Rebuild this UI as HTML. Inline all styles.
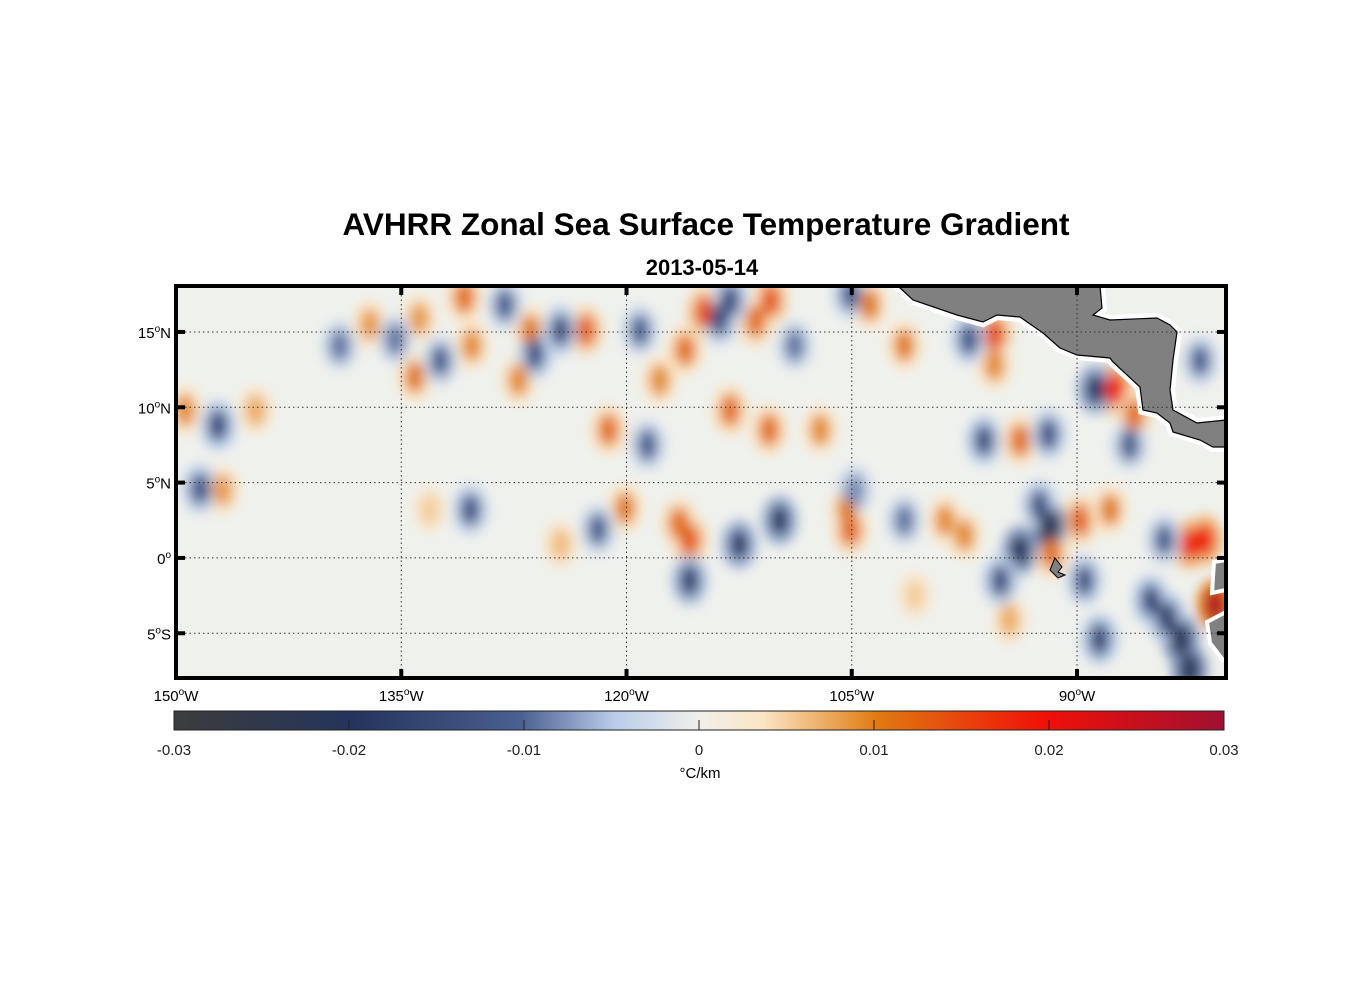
<!DOCTYPE html>
<html><head><meta charset="utf-8"><style>
body{margin:0;background:#fff;width:1356px;height:1000px;overflow:hidden;font-family:"Liberation Sans",Arial,sans-serif}
svg text{font-family:"Liberation Sans",Arial,sans-serif}
</style></head><body>
<svg id="chart" width="1356" height="1000" xmlns="http://www.w3.org/2000/svg">
<defs>
<filter id="blur" x="-50%" y="-50%" width="200%" height="200%"><feGaussianBlur stdDeviation="6"/></filter>
<clipPath id="mapclip"><rect x="176" y="286" width="1050" height="392"/></clipPath>
<linearGradient id="cbgrad" x1="0" x2="1" y1="0" y2="0">
<stop offset="0" stop-color="#3c3c3c"/><stop offset="0.17" stop-color="#24345c"/>
<stop offset="0.33" stop-color="#4a6090"/><stop offset="0.42" stop-color="#b9cdea"/>
<stop offset="0.5" stop-color="#f0f0ea"/><stop offset="0.56" stop-color="#fbe6c6"/>
<stop offset="0.67" stop-color="#e07a10"/><stop offset="0.83" stop-color="#f01008"/>
<stop offset="1" stop-color="#a01030"/></linearGradient>
</defs>
<text x="706" y="235" text-anchor="middle" font-size="31.5" font-weight="bold">AVHRR Zonal Sea Surface Temperature Gradient</text>
<text x="702" y="275" text-anchor="middle" font-size="22" font-weight="bold">2013-05-14</text>
<g clip-path="url(#mapclip)">
<rect x="176" y="286" width="1050" height="392" fill="#eff1ed"/>
<g id="blobs" filter="url(#blur)"></g>
<g id="land">
<polygon points="898,286 913,300 957,315 983,322 997,315 1020,317 1043,333 1060,348 1077,355 1110,358 1113,362 1140,387 1143,410 1157,413 1170,423 1173,432 1200,440 1213,447 1226,447 1226,420 1197,423 1173,410 1170,390 1173,360 1177,332 1170,325 1157,318 1110,320 1093,315 1102,308 1100,286" fill="#fff" stroke="#fff" stroke-width="10"/>
<polygon points="898,286 913,300 957,315 983,322 997,315 1020,317 1043,333 1060,348 1077,355 1110,358 1113,362 1140,387 1143,410 1157,413 1170,423 1173,432 1200,440 1213,447 1226,447 1226,420 1197,423 1173,410 1170,390 1173,360 1177,332 1170,325 1157,318 1110,320 1093,315 1102,308 1100,286" fill="#808080" stroke="#000" stroke-width="1.2"/>
<polygon points="1226,560 1214,562 1212,593 1226,590" fill="#808080" stroke="#fff" stroke-width="4"/>
<polygon points="1226,612 1207,622 1210,643 1223,660 1226,660" fill="#808080" stroke="#fff" stroke-width="4"/>
<polygon points="1055,558 1062,567 1058,572 1065,575 1058,578 1050,570" fill="#808080" stroke="#000" stroke-width="1"/>
</g>
<g id="grid" stroke="#333" stroke-width="1" stroke-dasharray="1.5,3"></g>
</g>
<rect x="176" y="286" width="1050" height="392" fill="none" stroke="#000" stroke-width="4"/>
<g id="ticks"></g>
<g id="colorbar">
<rect x="174" y="711" width="1050" height="19" fill="url(#cbgrad)" stroke="#222" stroke-width="1"/>
</g>
<text x="700" y="778" text-anchor="middle" font-size="15">°C/km</text>
</svg>
<script>
const blobLon=[-149.4,-144.7,-146.9,-137.1,-133.8,-134.1,-130.8,-130.3,-126.4,-127.2,-122.7,-121.2,-120.1,-115.8,-116.5,-114.8,-116.1,-117.8,-110.4,-111.4,-110.5,-113.1,-107.1,-105.1,-105.3,-103.8,-101.5,-95.5,-95.5,-93.8,-98.8,-97.5,-89.8,-87.8,-87.5,-86.2,-82.5,-81.5,-80.8,-91.7,-124.4,-133.1,-94.5,-100.8,
-147.2,-148.4,-139.1,-135.4,-132.4,-126.1,-124.4,-128.1,-130.4,-121.9,-118.6,-115.8,-112.5,-109.8,-113.1,-113.8,-119.1,-108.8,-105.1,-101.5,-96.2,-97.2,-91.9,-93.8,-95.1,-89.5,-88.8,-86.5,-84.2,-85.1,-83.1,-82.5,-88.5,-91.9,-81.8,-104.8,-92.5,-84];
const blobLat=[9.8,9.8,4.5,15.5,15.9,12,17.3,14.1,15.1,11.8,15.1,8.5,3.3,1.2,2.3,16.3,13.8,11.8,17.1,15.7,8.5,9.8,8.5,1.9,3.2,16.8,14.1,14.8,12.8,7.8,2.5,1.5,2.5,3.2,11.2,9.5,0.9,1.2,-3.1,0.3,0.9,3.2,-4.1,-2.5,
8.8,4.6,14.1,14.5,13.1,13.5,15.1,16.8,3.2,1.9,7.5,-1.5,0.9,2.5,17.1,15.8,15.1,14.1,17.5,2.5,7.8,14.5,2.2,0.5,-1.5,-1.5,11.2,7.5,1.2,-2.8,-5.4,-7.4,-5.4,8.2,13.1,4.5,3.5,-4];
const blobVal=[0.009,0.007,0.008,0.008,0.008,0.01,0.011,0.009,0.01,0.009,0.012,0.011,0.01,0.013,0.011,0.014,0.011,0.009,0.013,0.011,0.011,0.011,0.009,0.012,0.01,0.01,0.01,0.014,0.009,0.011,0.009,0.009,0.012,0.01,0.018,0.011,0.017,0.018,0.028,0.011,0.006,0.005,0.007,0.005,
-0.014,-0.012,-0.009,-0.009,-0.01,-0.012,-0.013,-0.01,-0.012,-0.01,-0.01,-0.016,-0.017,-0.018,-0.013,-0.012,-0.01,-0.009,-0.01,-0.009,-0.013,-0.012,-0.025,-0.02,-0.013,-0.012,-0.018,-0.01,-0.01,-0.014,-0.022,-0.022,-0.015,-0.012,-0.01,-0.008,-0.012,-0.016];
const lonTicks=[-150,-135,-120,-105,-90];
const lonLabels=["150","135","120","105","90"];
const latTicks=[15,10,5,0,-5];
const latLabels=["15","10","5","0","5"];
const latHemi=["N","N","N","","S"];
const cbTicks=[-0.03,-0.02,-0.01,0,0.01,0.02,0.03];
const cbLabels=["-0.03","-0.02","-0.01","0","0.01","0.02","0.03"];

const NS="http://www.w3.org/2000/svg";
const X0=176,X1=1226,LON0=-150,LON1=-80.08,Y0=286,Y1=678,LAT0=18.05,LAT1=-7.97;
const xs=lon=>X0+(lon-LON0)/(LON1-LON0)*(X1-X0);
const ys=lat=>Y0+(lat-LAT0)/(LAT1-LAT0)*(Y1-Y0);
const cbx=v=>174+(v+0.03)/0.06*1050;
const stops=[[-0.03,[60,60,60]],[-0.02,[36,52,92]],[-0.01,[74,96,144]],[-0.005,[185,205,234]],[0,[240,240,234]],[0.0035,[251,230,198]],[0.01,[224,122,16]],[0.02,[240,16,8]],[0.03,[160,16,48]]];
function cmap(v){v=Math.max(-0.03,Math.min(0.03,v));for(let i=0;i<stops.length-1;i++){const a=stops[i],b=stops[i+1];if(v<=b[0]){const t=(v-a[0])/(b[0]-a[0]);return 'rgb('+a[1].map((c,k)=>Math.round(c+(b[1][k]-c)*t)).join(',')+')';}}return 'rgb(160,16,48)';}
function mk(tag,attrs,parent){const e=document.createElementNS(NS,tag);for(const k in attrs)e.setAttribute(k,attrs[k]);parent.appendChild(e);return e;}

const blobs=document.getElementById('blobs');
blobLon.forEach((lon,i)=>{
  const v=blobVal[i];
  const halo=mk('ellipse',{cx:xs(lon),cy:ys(blobLat[i]),rx:18,ry:25,fill:cmap(v*0.35)},blobs);
  
  
});
blobLon.forEach((lon,i)=>{
  const v=blobVal[i];
  const e=mk('ellipse',{cx:xs(lon),cy:ys(blobLat[i]),rx:10,ry:16,fill:cmap(v)},blobs);
  
  
});

const grid=document.getElementById('grid');
lonTicks.slice(1).forEach(l=>{const g=mk('line',{x1:xs(l),x2:xs(l),y1:Y0,y2:Y1},grid);
  
  });
latTicks.forEach(l=>{const g=mk('line',{x1:X0,x2:X1,y1:ys(l),y2:ys(l)},grid);
  
  });

const ticks=document.getElementById('ticks');
lonTicks.forEach((l,i)=>{
  const x=xs(l);
  if(i>0){mk('line',{x1:x,x2:x,y1:Y0,y2:Y0+9,stroke:'#000','stroke-width':4},ticks);
  mk('line',{x1:x,x2:x,y1:Y1-9,y2:Y1,stroke:'#000','stroke-width':4},ticks);}
  const t=mk('text',{x:x,y:701,'text-anchor':'middle','font-size':15},ticks);
  t.innerHTML=lonLabels[i]+'<tspan dy="-6" font-size="10">o</tspan><tspan dy="6">W</tspan>';
  
  
});
latTicks.forEach((l,i)=>{
  const y=ys(l);
  mk('line',{x1:X0,x2:X0+9,y1:y,y2:y,stroke:'#000','stroke-width':4},ticks);
  mk('line',{x1:X1-9,x2:X1,y1:y,y2:y,stroke:'#000','stroke-width':4},ticks);
  const t=mk('text',{x:171,y:y+6,'text-anchor':'end','font-size':15},ticks);
  t.innerHTML=latLabels[i]+'<tspan dy="-6" font-size="10">o</tspan><tspan dy="6">'+latHemi[i]+'</tspan>';
  
  
});

const cb=document.getElementById('colorbar');
cbTicks.forEach((v,i)=>{
  const x=cbx(v);
  if(i>0&&i<cbTicks.length-1) mk('line',{x1:x,x2:x,y1:720,y2:730,stroke:'#222','stroke-width':1},cb);
  const t=mk('text',{x:x,y:755,'text-anchor':'middle','font-size':15,fill:'#222'},cb);
  t.textContent=cbLabels[i];
  
  
});
</script>
</body></html>
